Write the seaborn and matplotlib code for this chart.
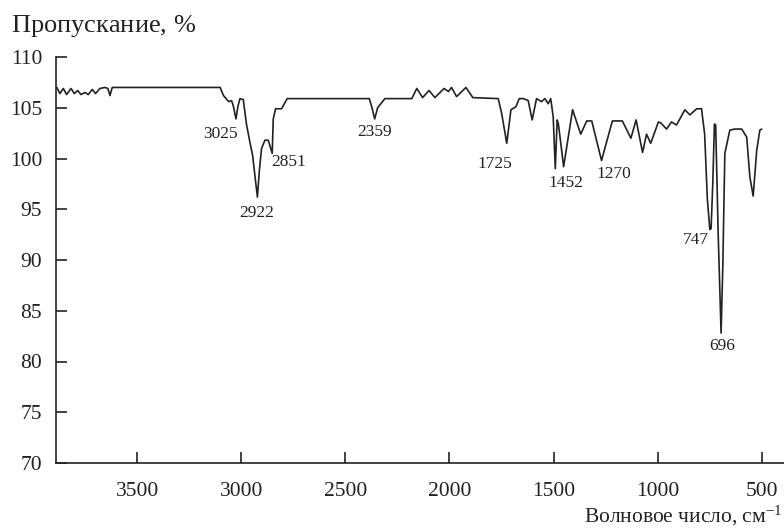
import matplotlib
matplotlib.use("Agg")
import matplotlib.pyplot as plt
import pandas as pd
import seaborn as sns

# IR transmission spectrum: wavenumber (cm^-1) and transmittance (%)
wavenumber = [
    3885, 3870, 3854, 3838, 3817, 3801, 3785, 3769, 3750, 3734, 3715, 3699,
    3678, 3654, 3640, 3630, 3619, 3101, 3085, 3060, 3046, 3038, 3025, 3016,
    3006, 2990, 2974, 2958, 2945, 2934, 2922, 2912, 2902, 2886, 2870, 2851,
    2846, 2835, 2806, 2798, 2779, 2385, 2372, 2359, 2345, 2310, 2181, 2157,
    2129, 2098, 2070, 2026, 2005, 1990, 1966, 1921, 1888, 1766, 1750, 1725,
    1705, 1681, 1665, 1645, 1622, 1603, 1582, 1558, 1542, 1526, 1514, 1502,
    1492, 1483, 1477, 1452, 1409, 1370, 1341, 1317, 1270, 1218, 1170, 1129,
    1104, 1073, 1054, 1034, 997, 985, 958, 934, 910, 870, 846, 813, 790, 775,
    762, 750, 744, 736, 728, 722, 710, 696, 688, 678, 654, 630, 597, 573, 558,
    542, 525, 510, 501,
]
transmittance = [
    107.0, 106.4, 106.9, 106.3, 106.9, 106.4, 106.7, 106.3, 106.5, 106.3,
    106.8, 106.4, 106.9, 107.0, 106.9, 106.2, 107.0, 107.0, 106.2, 105.6,
    105.7, 105.2, 103.9, 105.1, 105.9, 105.8, 103.3, 101.6, 100.3, 98.3,
    96.2, 99.0, 101.0, 101.8, 101.8, 100.5, 103.9, 104.9, 104.9, 105.2,
    105.9, 105.9, 105.0, 103.9, 105.0, 105.9, 105.9, 106.9, 106.0, 106.7,
    106.0, 106.9, 106.6, 107.0, 106.1, 107.0, 106.0, 105.9, 104.5, 101.5,
    104.8, 105.1, 105.9, 105.9, 105.7, 103.8, 105.9, 105.6, 105.9, 105.4,
    105.9, 104.1, 99.0, 103.8, 103.4, 99.2, 104.8, 102.4, 103.7, 103.7,
    99.8, 103.7, 103.7, 102.0, 103.8, 100.6, 102.4, 101.5, 103.6, 103.5,
    102.9, 103.6, 103.3, 104.8, 104.3, 104.9, 104.9, 102.4, 96.0, 93.0,
    93.1, 97.5, 103.4, 103.3, 92.6, 82.8, 89.2, 100.5, 102.8, 102.9, 102.9,
    102.1, 98.2, 96.3, 100.8, 102.8, 102.9,
]

# Band labels and where each one is written
band_labels = ["3025", "2922", "2851", "2359", "1725", "1452", "1270", "747", "696"]
label_x = [3097, 2925, 2773, 2362, 1782, 1442, 1212, 818, 693]
label_y = [102.4, 94.6, 99.7, 102.6, 99.5, 97.6, 98.5, 92.0, 81.5]

x_ticks = [3500, 3000, 2500, 2000, 1500, 1000, 500]
y_ticks = [70, 75, 80, 85, 90, 95, 100, 105, 110]

sns.set_style("ticks")
plt.rcParams["font.family"] = ["Liberation Serif", "DejaVu Serif"]
plt.rcParams["mathtext.fontset"] = "custom"
plt.rcParams["mathtext.rm"] = "Liberation Serif"
plt.rcParams["mathtext.it"] = "Liberation Serif:italic"

spectrum = pd.DataFrame({"wn": wavenumber, "T": transmittance})

fig = plt.figure(figsize=(7.84, 5.28), dpi=100)
ax = fig.add_axes([56 / 784, 1 - 463 / 528, 1 - 56 / 784, (463 - 57) / 528])

sns.lineplot(data=spectrum, x="wn", y="T", sort=False, estimator=None,
             color="#222222", linewidth=1.2, ax=ax)

ax.set_xlim(3889, 394)
ax.set_ylim(70, 110)
ax.set_xticks(x_ticks)
ax.set_yticks(y_ticks)
ax.set_xlabel("")
ax.set_ylabel("")

for side in ("top", "right"):
    ax.spines[side].set_visible(False)
for side in ("left", "bottom"):
    ax.spines[side].set_linewidth(1.2)
    ax.spines[side].set_color("#222222")

ax.tick_params(axis="both", direction="in", length=8, width=1.2,
               labelsize=15.5, colors="#222222")
ax.tick_params(axis="x", pad=14)
ax.tick_params(axis="y", pad=10)

for text, xv, yv in zip(band_labels, label_x, label_y):
    ax.text(xv, yv, text, fontsize=12.5, ha="center", va="center", color="#222222")

fig.text(11 / 784, 1 - 26 / 528, r"Пропускание, $\mathit{\%}$", fontsize=19,
         ha="left", va="center", color="#222222")
fig.text(782 / 784, 1 - 516 / 528, r"Волновое число, см$^{\mathrm{-1}}$",
         fontsize=15.5, ha="right", va="center", color="#222222")

fig.savefig("out.png", dpi=100)
